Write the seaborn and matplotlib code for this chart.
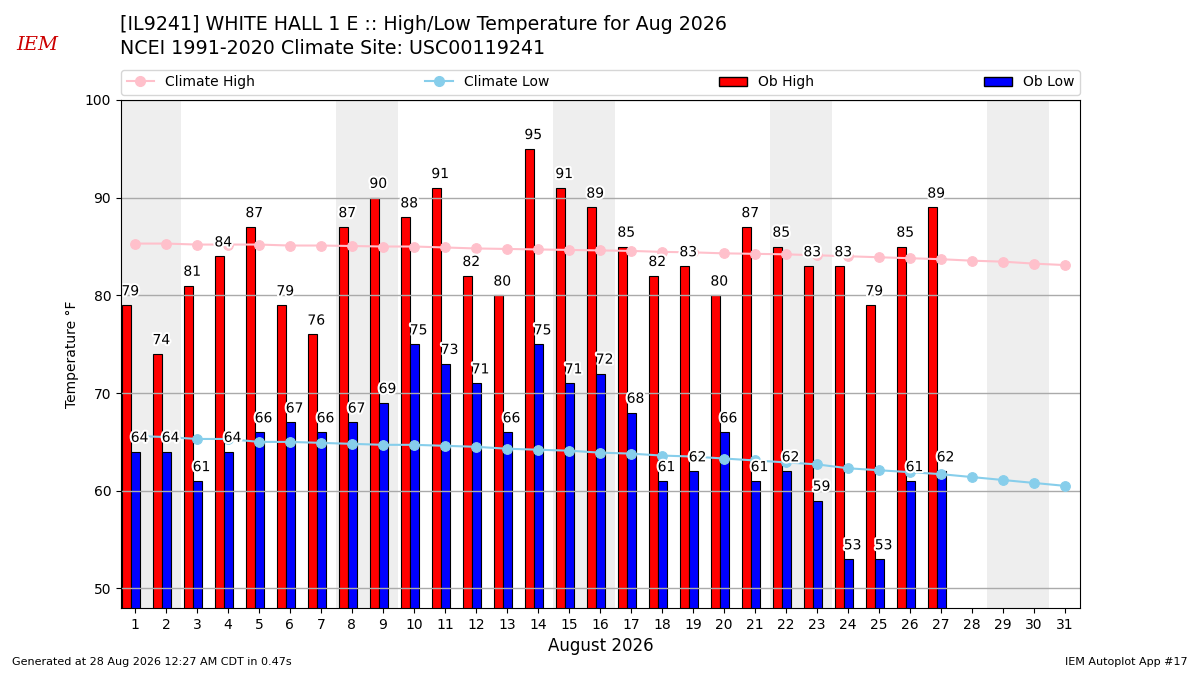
import pandas as pd
import seaborn as sns
import matplotlib.pyplot as plt
import matplotlib.patheffects as pe
from matplotlib.patches import Patch
from matplotlib.lines import Line2D

# observed daily values, Aug 1 - 27
ob_days = list(range(1, 28))
ob_high = [79, 74, 81, 84, 87, 79, 76, 87, 90, 88, 91, 82, 80, 95, 91, 89,
           85, 82, 83, 80, 87, 85, 83, 83, 79, 85, 89]
ob_low = [64, 64, 61, 64, 66, 67, 66, 67, 69, 75, 73, 71, 66, 75, 71, 72,
          68, 61, 62, 66, 61, 62, 59, 53, 53, 61, 62]

# NCEI 1991-2020 climatology, Aug 1 - 31
clim_days = list(range(1, 32))
clim_high = [85.3, 85.3, 85.2, 85.2, 85.2, 85.1, 85.1, 85.05, 85.0, 85.0,
             84.9, 84.8, 84.75, 84.7, 84.65, 84.6, 84.55, 84.45, 84.4, 84.3,
             84.25, 84.2, 84.1, 84.0, 83.9, 83.8, 83.7, 83.55, 83.45, 83.25,
             83.1]
clim_low = [65.6, 65.5, 65.3, 65.3, 65.0, 65.0, 64.9, 64.8, 64.7, 64.7,
            64.6, 64.5, 64.3, 64.2, 64.1, 63.9, 63.8, 63.6, 63.5, 63.3,
            63.1, 62.9, 62.7, 62.3, 62.1, 61.9, 61.7, 61.4, 61.1, 60.8,
            60.5]

weekend_starts = [1, 8, 15, 22, 29]

fig = plt.figure(figsize=(12, 6.75), dpi=100)
ax = fig.add_axes([0.1008, 0.0993, 0.799, 0.7526])

for d in weekend_starts:
    ax.axvspan(d - 0.5, d + 1.5, color='#eeeeee', zorder=0, lw=0)

shift = -0.13
bars = pd.DataFrame({
    'pos': [d + shift for d in ob_days] * 2,
    'temp': ob_high + ob_low,
    'kind': ['Ob High'] * len(ob_days) + ['Ob Low'] * len(ob_days),
})
sns.barplot(data=bars, x='pos', y='temp', hue='kind', native_scale=True,
            palette={'Ob High': 'red', 'Ob Low': 'blue'}, width=0.58,
            dodge=True, edgecolor='black', linewidth=0.8, saturation=1,
            legend=False, errorbar=None, ax=ax, zorder=2)

sns.lineplot(x=clim_days, y=clim_high, color='pink', marker='o', markersize=7,
             markeredgecolor='pink', linewidth=1.5, ax=ax, zorder=3)
sns.lineplot(x=clim_days, y=clim_low, color='skyblue', marker='o', markersize=7,
             markeredgecolor='skyblue', linewidth=1.5, ax=ax, zorder=3)

stroke = [pe.withStroke(linewidth=3, foreground='white')]
for d, h, l in zip(ob_days, ob_high, ob_low):
    ax.text(d - 0.15, h + 0.7, str(h), ha='center', va='bottom', fontsize=10,
            path_effects=stroke, zorder=4)
    ax.text(d + 0.15, l + 0.7, str(l), ha='center', va='bottom', fontsize=10,
            path_effects=stroke, zorder=4)

ax.set_xlim(0.55, 31.48)
ax.set_ylim(48, 100)
ax.set_xticks(clim_days)
ax.set_xticklabels([str(d) for d in clim_days])
ax.set_yticks(range(50, 101, 10))
ax.yaxis.grid(True, color='#aaaaaa', lw=1, zorder=1)
ax.set_axisbelow(False)
ax.set_xlabel('August 2026', fontsize=12)
ax.set_ylabel('Temperature °F')
for s in ax.spines.values():
    s.set_zorder(5)

handles = [
    Line2D([], [], color='pink', marker='o', markersize=7, lw=1.5),
    Line2D([], [], color='skyblue', marker='o', markersize=7, lw=1.5),
    Patch(facecolor='red', edgecolor='black'),
    Patch(facecolor='blue', edgecolor='black'),
]
ax.legend(handles, ['Climate High', 'Climate Low', 'Ob High', 'Ob Low'],
          loc='lower left', bbox_to_anchor=(0, 1.01, 1, 0.05), mode='expand',
          ncol=4, borderaxespad=0, fontsize=10)

fig.text(0.1, 0.963, '[IL9241] WHITE HALL 1 E :: High/Low Temperature for Aug 2026',
         fontsize=13.7, va='center')
fig.text(0.1, 0.928, 'NCEI 1991-2020 Climate Site: USC00119241',
         fontsize=13.7, va='center')
fig.text(0.031, 0.933, 'IEM', color='#cc0000', fontsize=14, style='italic',
         family='DejaVu Serif', ha='center', va='center')
fig.text(0.01, 0.015, 'Generated at 28 Aug 2026 12:27 AM CDT in 0.47s', fontsize=8)
fig.text(0.99, 0.015, 'IEM Autoplot App #17', fontsize=8, ha='right')

fig.savefig('out.png', dpi=100)
